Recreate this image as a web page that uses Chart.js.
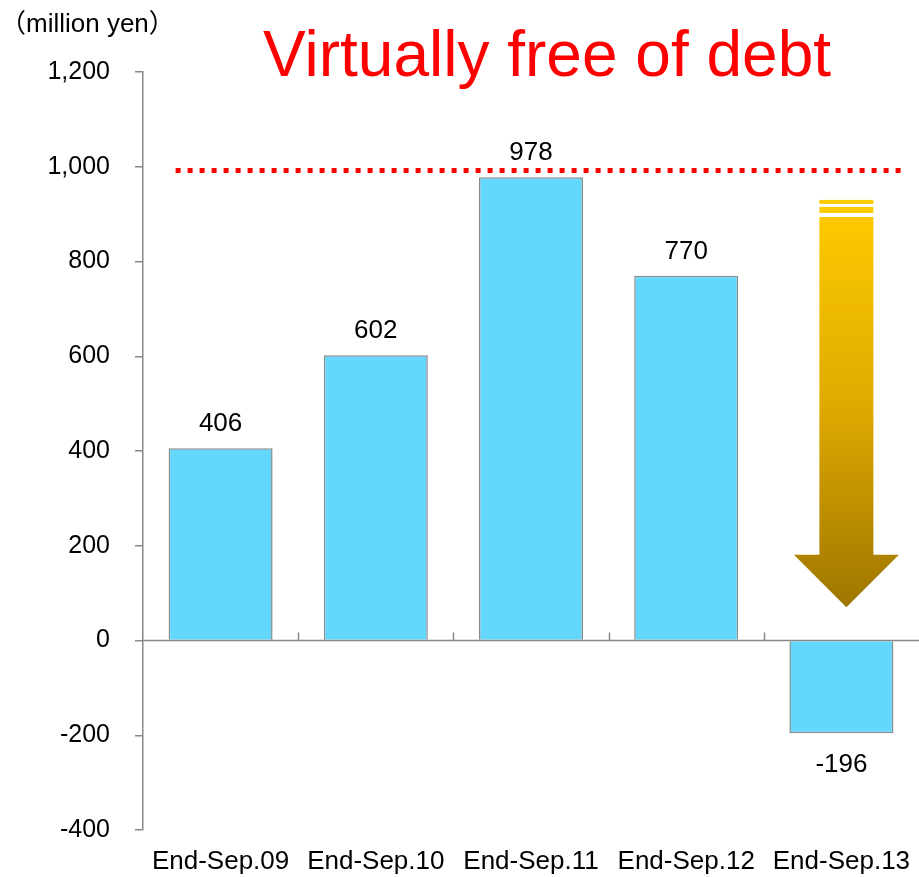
<!DOCTYPE html>
<html>
<head>
<meta charset="utf-8">
<script src="https://cdn.jsdelivr.net/npm/chart.js@4/dist/chart.umd.min.js"></script>
<style>
  html, body { margin: 0; padding: 0; background: #ffffff; }
  #wrap { width: 919px; height: 877px; position: relative; }
</style>
</head>
<body>
<div id="wrap"><canvas id="c"></canvas></div>
<script>
// Net interest-bearing debt at each fiscal half-year end
const periods = ['End-Sep.09', 'End-Sep.10', 'End-Sep.11', 'End-Sep.12', 'End-Sep.13'];
const netDebt = [406, 602, 978, 770, -196];
const yTicks = [-400, -200, 0, 200, 400, 600, 800, 1000, 1200];
const titleText = 'Virtually free of debt';
const unitText = '（million yen）';

const AXIS_GREY = '#888888';
const FONT = "'Liberation Sans', Arial, sans-serif";

// Extra drawing: headline, unit, reference line, trend arrow, zero axis, value labels
const decorations = {
  id: 'decorations',
  afterDatasetsDraw(chart) {
    const { ctx, chartArea, scales: { x, y } } = chart;
    ctx.save();

    // zero baseline with category separators pointing upward
    const y0 = y.getPixelForValue(0);
    ctx.strokeStyle = AXIS_GREY;
    ctx.lineWidth = 1.5;
    ctx.beginPath();
    ctx.moveTo(chartArea.left, y0);
    ctx.lineTo(chartArea.right, y0);
    for (let i = 1; i < periods.length; i++) {
      const bx = Math.round((x.getPixelForValue(i - 1) + x.getPixelForValue(i)) / 2) + 0.5;
      ctx.moveTo(bx, y0);
      ctx.lineTo(bx, y0 - 8);
    }
    ctx.stroke();

    // dotted ceiling line
    const yd = Math.round(y.getPixelForValue(993)) + 0.5;
    ctx.strokeStyle = '#ff0000';
    ctx.lineWidth = 5;
    ctx.setLineDash([5, 7]);
    ctx.lineCap = 'butt';
    ctx.beginPath();
    ctx.moveTo(x.getPixelForValue(0) - 45, yd);
    ctx.lineTo(x.getPixelForValue(periods.length - 1) + 64, yd);
    ctx.stroke();
    ctx.setLineDash([]);

    // downward trend arrow
    const cx = x.getPixelForValue(periods.length - 1) + 5;
    const shaftHalf = 27, headHalf = 52.5;
    const yTop = y.getPixelForValue(930);
    const yHead = y.getPixelForValue(181);
    const yTip = y.getPixelForValue(70);
    const grad = ctx.createLinearGradient(0, yTop, 0, yTip);
    grad.addColorStop(0, '#ffcc00');
    grad.addColorStop(0.5, '#e0aa00');
    grad.addColorStop(1, '#9e7600');
    ctx.fillStyle = grad;
    ctx.fillRect(cx - shaftHalf, yTop, shaftHalf * 2, 4);
    ctx.fillRect(cx - shaftHalf, yTop + 7, shaftHalf * 2, 6);
    ctx.beginPath();
    ctx.moveTo(cx - shaftHalf, yTop + 17);
    ctx.lineTo(cx + shaftHalf, yTop + 17);
    ctx.lineTo(cx + shaftHalf, yHead);
    ctx.lineTo(cx + headHalf, yHead);
    ctx.lineTo(cx, yTip);
    ctx.lineTo(cx - headHalf, yHead);
    ctx.lineTo(cx - shaftHalf, yHead);
    ctx.closePath();
    ctx.fill();

    // value labels
    ctx.fillStyle = '#000000';
    ctx.font = '26px ' + FONT;
    ctx.textAlign = 'center';
    ctx.textBaseline = 'alphabetic';
    const meta = chart.getDatasetMeta(0);
    meta.data.forEach((bar, i) => {
      const v = netDebt[i];
      const ty = v >= 0 ? bar.y - 17 : bar.y + 39;
      ctx.fillText(String(v), bar.x, ty);
    });

    // headline
    ctx.fillStyle = '#ff0000';
    ctx.font = '64px ' + FONT;
    ctx.fillText(titleText, 547, 76);

    // unit caption
    ctx.fillStyle = '#000000';
    ctx.font = "26px 'Liberation Sans', 'Noto Sans CJK JP', sans-serif";
    ctx.textAlign = 'left';
    ctx.fillText(unitText, 0, 32);

    ctx.restore();
  }
};

new Chart(document.getElementById('c'), {
  type: 'bar',
  data: {
    labels: periods,
    datasets: [{
      data: netDebt,
      backgroundColor: '#64d7fe',
      borderColor: '#8a8a8a',
      borderWidth: 1.5,
      categoryPercentage: 0.67,
      barPercentage: 1.0
    }]
  },
  options: {
    responsive: true,
    maintainAspectRatio: false,
    animation: false,
    events: [],
    layout: { padding: { top: 72, left: 0, right: 0, bottom: 0 } },
    plugins: {
      legend: { display: false },
      title: { display: false },
      tooltip: { enabled: false }
    },
    scales: {
      x: {
        position: 'bottom',
        grid: { display: false, drawTicks: false },
        border: { display: false },
        ticks: {
          color: '#000000',
          font: { family: FONT, size: 26, lineHeight: 2.46 },
          padding: 0,
          maxRotation: 0,
          autoSkip: false
        },
        afterFit(scale) { scale.height = 47; }
      },
      y: {
        min: -400,
        max: 1200,
        grid: {
          drawOnChartArea: false,
          drawTicks: true,
          tickLength: 8,
          color: AXIS_GREY,
          lineWidth: 1.5
        },
        border: { display: true, color: AXIS_GREY, width: 1.5 },
        afterBuildTicks(scale) { scale.ticks = yTicks.map(v => ({ value: v })); },
        ticks: {
          color: '#000000',
          font: { family: FONT, size: 25 },
          padding: 25,
          callback: v => Number(v).toLocaleString('en-US')
        },
        afterFit(scale) { scale.width = 143; }
      }
    }
  },
  plugins: [decorations]
});
</script>
</body>
</html>
